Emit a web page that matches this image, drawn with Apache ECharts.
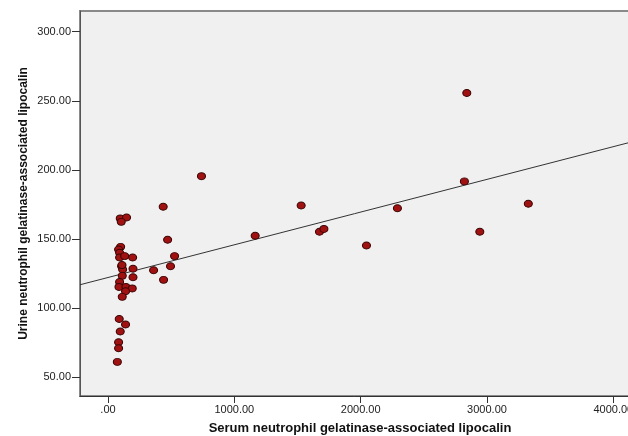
<!DOCTYPE html>
<html>
<head>
<meta charset="utf-8">
<script src="https://cdn.jsdelivr.net/npm/echarts@6/dist/echarts.min.js"></script>
<style>html,body{margin:0;padding:0;background:#fff}#c{width:628px;height:436px}</style>
</head>
<body>
<div id="c"></div>
<script>
// Serum NGAL (x) and urine NGAL (y)
var serumNGAL = [740, 437, 97, 147, 105, 472, 100, 84, 92, 92, 132, 195, 527, 108, 116, 198, 495, 361, 113, 198, 92, 440, 87, 142, 192, 139, 113, 89, 139, 97, 84, 84, 74, 1165, 1529, 1674, 1709, 2046, 2291, 2821, 2943, 3327, 2840, 111];
var urineNGAL = [195.4, 173.2, 164.8, 165.5, 162.3, 149.3, 144.2, 142.3, 139.9, 136.5, 137.5, 136.5, 137.5, 130.2, 127.8, 128.3, 130.2, 127.3, 123.2, 122.2, 118.8, 120.3, 115.2, 115.2, 114.1, 112.1, 108.0, 92.0, 88.0, 82.9, 75.1, 70.8, 60.9, 152.2, 174.2, 155.1, 157.2, 145.2, 172.2, 191.6, 155.1, 175.4, 255.6, 131.0];
var xTicks = [0, 1000, 2000, 3000, 4000];
var yTicks = [50, 100, 150, 200, 250, 300];
var fitIntercept = 122.0;
var fitSlope = 0.02369;
var xMin = -221.5, xMax = 4211, yMin = 36.2, yMax = 315;

var points = serumNGAL.map(function (v, i) { return [v, urineNGAL[i]]; });
var fitLine = [[xMin, fitIntercept + fitSlope * xMin], [xMax, fitIntercept + fitSlope * xMax]];

function fmt(v) { return v === 0 ? '.00' : v.toFixed(2); }

var chart = echarts.init(document.getElementById('c'), null, {renderer: 'canvas'});
chart.setOption({
  animation: false,
  grid: {left: 80, right: -12, top: 11, bottom: 40, containLabel: false, outerBoundsMode: 'none',
    show: true, backgroundColor: '#f0f0f0', borderColor: '#8a8a8a', borderWidth: 2},
  xAxis: {
    type: 'value', min: xMin, max: xMax,
    name: 'Serum neutrophil gelatinase-associated lipocalin',
    nameLocation: 'middle', nameGap: 26, nameMoveOverlap: false,
    nameTextStyle: {fontFamily: 'Liberation Sans', fontWeight: 'bold', fontSize: 13, color: '#111'},
    axisLine: {show: true, onZero: false, lineStyle: {color: '#333', width: 1}},
    axisTick: {show: true, customValues: xTicks, length: 7, lineStyle: {color: '#333'}},
    axisLabel: {customValues: xTicks, formatter: fmt, fontFamily: 'Liberation Sans', fontSize: 11, color: '#222', margin: 8},
    splitLine: {show: false}
  },
  yAxis: {
    type: 'value', min: yMin, max: yMax,
    name: 'Urine neutrophil gelatinase-associated lipocalin',
    nameLocation: 'middle', nameGap: 50, nameMoveOverlap: false,
    nameTextStyle: {fontFamily: 'Liberation Sans', fontWeight: 'bold', fontSize: 12, color: '#111'},
    axisLine: {show: true, onZero: false, lineStyle: {color: '#555', width: 1}},
    axisTick: {show: true, customValues: yTicks, length: 8, lineStyle: {color: '#333'}},
    axisLabel: {customValues: yTicks, formatter: fmt, fontFamily: 'Liberation Sans', fontSize: 11, color: '#222', margin: 9},
    splitLine: {show: false}
  },
  series: [
    {
      type: 'line', data: fitLine, showSymbol: false, symbol: 'none',
      lineStyle: {color: '#333', width: 1}, z: 2, silent: true
    },
    {
      type: 'scatter', data: points, symbol: 'circle', symbolSize: [8, 7],
      itemStyle: {color: '#a01212', borderColor: '#3a0505', borderWidth: 1, opacity: 1}, z: 3
    }
  ]
});
</script>
</body>
</html>
